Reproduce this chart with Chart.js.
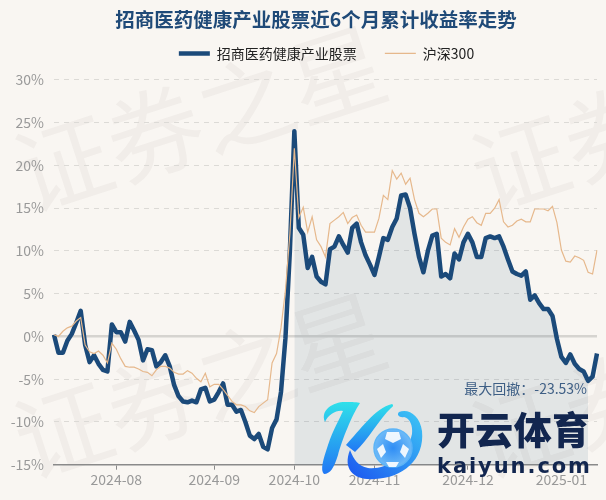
<!DOCTYPE html>
<html>
<head>
<meta charset="utf-8">
<script src="https://cdn.jsdelivr.net/npm/chart.js@4"></script>
<style>
html, body { margin: 0; padding: 0; background: #f9f6f2; }
#wrap { position: relative; width: 606px; height: 500px; overflow: hidden; }
#logo { position: absolute; left: 0; top: 0; pointer-events: none; }
</style>
</head>
<body>
<div id="wrap">
<canvas id="chart" width="606" height="500"></canvas>
<svg id="logo" width="606" height="500" xmlns="http://www.w3.org/2000/svg">
    <defs>
        <linearGradient id="kGrad" x1="0" y1="0" x2="0" y2="1">
            <stop offset="0" stop-color="#2fe0ea"/>
            <stop offset="1" stop-color="#2177f5"/>
        </linearGradient>
        <linearGradient id="swoosh" x1="0" y1="1" x2="1" y2="0">
            <stop offset="0" stop-color="#1b55f0"/>
            <stop offset="1" stop-color="#3dc8f5"/>
        </linearGradient>
        <radialGradient id="ball" cx="0.5" cy="0.5" r="0.6">
            <stop offset="0" stop-color="#2f8df5"/>
            <stop offset="1" stop-color="#7cc4f8"/>
        </radialGradient>
    </defs>
    <path fill="url(#kGrad)" d="M325,422 C320,410 333,402 345,402 C352,402 358,402 360,403 C352,415 342,440 338,455 C334,468 330,474 324,474 C320,470 323,460 328,445 C333,430 340,418 343,411 C336,410 329,414 325,422 Z"/>
    <path fill="url(#kGrad)" d="M346,445 C360,430 375,408 392,404 C394,405 393,407 391,408 C380,418 368,440 355,452 Z"/>
    <path fill="url(#swoosh)" d="M350,450 C342,470 355,481 375,479 C402,478 425,460 422,431 C420,415 408,408 399,412 C396,415 400,418 404,417 C410,418 413,426 412,434 C407,458 385,470 368,468 C358,466 354,460 350,450 Z"/>
    <circle cx="393" cy="448" r="19" fill="url(#ball)" stroke="#5cb4f7" stroke-width="1.5"/>
    <g fill="#ffffff" opacity="0.9">
        <polygon points="387,432 399,432 401,439 393,443 385,439"/>
        <polygon points="377,449 383,444 386,452 381,458"/>
        <polygon points="403,444 409,449 405,458 400,452"/>
        <polygon points="386,462 399,462 396,467 389,467"/>
    </g>
    <text x="437" y="444" font-family="Noto Sans CJK SC" font-weight="900" font-size="38" fill="#12264f" textLength="153" lengthAdjust="spacing">开云体育</text>
    <text x="437" y="473" font-family="DejaVu Sans" font-weight="bold" font-size="21" fill="#12264f" textLength="153" lengthAdjust="spacing">kaiyun.com</text>
</svg>
</div>
<script>
const seriesNames = ['招商医药健康产业股票', '沪深300'];

const stockValues = [
    0.2, -1.9, -1.9, -0.5, 0.3, 1.6, 3.0, -1, -3, -2.2, -3.2, -3.9, -4.1, 1.4, 0.5, 0.5, -0.6, 1.7, 0.7, -0.4,
    -2.8, -1.5, -1.6, -3.5, -3, -2.2, -3.5, -5.7, -7, -7.6, -7.7, -7.5, -7.7, -6.2, -6, -7.6, -7.4, -6.5, -5.5, -8,
    -8, -8.8, -8.6, -10, -11.6, -12, -11.4, -12.9, -13.2, -10.7, -9.7, -6.5, -0.2, 10, 24, 12.7, 11.9, 8, 9.3, 7,
    6.4, 6.1, 10.2, 10.5, 11.7, 10.7, 9.8, 12.7, 13.2, 11, 9.5, 8.4, 7.2, 9.3, 11.5, 11.3, 12.8, 13.8, 16.5, 16.6,
    15, 12, 9.3, 7.5, 10, 11.8, 12, 7, 7.3, 6.8, 9.7, 9, 11, 12, 11, 9.3, 9.3, 11.5, 11.7, 11.5,
    11.7, 10.5, 9, 7.6, 7.3, 7.1, 7.6, 4.3, 4.8, 3.9, 3.2, 3.2, 2.4, -0.3, -2.4, -3.1, -2.1, -3.2, -3.8, -4.1,
    -5.2, -4.7, -2
];
const indexValues = [
    0.2, 0, 0.6, 1, 1.2, 1.8, 2.2, -1, -1.8, -2, -1.7, -2.2, -3.1, -0.8, -1.5, -2.6, -3.5, -3.6, -3.6, -3.8,
    -4.1, -4.2, -4.6, -3.9, -3.5, -3.5, -3.7, -4.2, -4.4, -4.4, -4, -4.3, -4.9, -5.3, -4.3, -5.9, -5.6, -5.6, -6.2, -6.9,
    -7.6, -8, -8, -8.2, -8.7, -8.9, -8.2, -7.8, -7.4, -3.1, -2, 1, 5.4, 12, 22, 13.9, 15.1, 12.2, 14, 11.3,
    10.5, 9.3, 13.2, 13.6, 14, 14.5, 13.2, 13.9, 14.2, 13, 12.2, 12.2, 12.2, 13.8, 16.5, 16, 19.4, 18.4, 19.1, 17.8,
    18.5, 16, 14.4, 14, 14.4, 14.9, 14.9, 11.5, 11, 10.7, 12.6, 11.6, 12.8, 13.7, 14, 13.3, 13, 14.4, 14.4, 15,
    16, 13.4, 12.8, 13, 13.5, 13.7, 13.4, 13.4, 14.9, 14.9, 14.9, 14.7, 15.2, 13.3, 10.1, 8.8, 8.7, 9.4, 9.2, 8.9,
    7.5, 7.3, 10.1
];

// 月份刻度：第几个交易日开始新的月份
const monthIndexes = [14, 36, 54, 72, 93, 114];
const monthLabels = ['2024-08', '2024-09', '2024-10', '2024-11', '2024-12', '2025-01'];
const yTicks = [-15, -10, -5, 0, 5, 10, 15, 20, 25, 30];

// 最大回撤区间
const drawdownStart = 54;
const drawdownEnd = 120;
const drawdownText = '最大回撤：-23.53%';

const categories = stockValues.map((v, i) => {
    const m = monthIndexes.indexOf(i);
    return m >= 0 ? monthLabels[m] : '';
});
const drawdownValues = stockValues.map((v, i) => (i >= drawdownStart && i <= drawdownEnd) ? v : null);

const FONT = '"Noto Sans CJK SC", "Noto Sans", sans-serif';

// 背景水印和回撤文字
const decorations = {
    id: 'decorations',
    afterLayout(chart) {
        // 图例位置微调，y轴标签不要被裁掉
        chart.legend.top -= 9.5;
        chart.legend.left += 21;
        chart.scales.y.left = 0;
    },
    beforeDraw(chart) {
        const ctx = chart.ctx;
        const spots = [[63, 163], [520, 163], [63, 430], [520, 430]];
        ctx.save();
        ctx.fillStyle = 'rgba(60,50,40,0.045)';
        ctx.font = '96px ' + FONT;
        ctx.textBaseline = 'middle';
        spots.forEach(p => {
            ctx.save();
            ctx.translate(p[0], p[1]);
            ctx.rotate(-18 * Math.PI / 180);
            ctx.fillText('证券之星', -48, 0);
            ctx.restore();
        });
        ctx.restore();
    },
    afterDatasetsDraw(chart) {
        const ctx = chart.ctx;
        ctx.save();
        ctx.fillStyle = '#3e5f85';
        ctx.font = '14px ' + FONT;
        ctx.textAlign = 'right';
        ctx.textBaseline = 'middle';
        ctx.fillText(drawdownText, 587, 389);
        ctx.restore();
    }
};

new Chart(document.getElementById('chart'), {
    type: 'line',
    data: {
        labels: categories,
        datasets: [
            {
                label: seriesNames[0],
                data: stockValues,
                borderColor: '#1b4a7a',
                borderWidth: 4.5,
                borderJoinStyle: 'round',
                pointRadius: 0,
                tension: 0,
                order: 2
            },
            {
                label: seriesNames[1],
                data: indexValues,
                borderColor: '#e6b88c',
                borderWidth: 1.2,
                pointRadius: 0,
                tension: 0,
                order: 1
            },
            {
                label: 'drawdown',
                data: drawdownValues,
                borderWidth: 0,
                borderColor: 'transparent',
                backgroundColor: 'rgba(27,74,122,0.1)',
                fill: 'start',
                pointRadius: 0,
                tension: 0,
                order: 3
            }
        ]
    },
    options: {
        responsive: false,
        animation: false,
        layout: { padding: { left: 35, right: 9, top: 8, bottom: 9.5 } },
        plugins: {
            title: {
                display: true,
                text: '招商医药健康产业股票近6个月累计收益率走势',
                color: '#1f4a78',
                font: { family: FONT, size: 19.5, weight: 'bold' },
                padding: { top: 0, bottom: -3.5 }
            },
            legend: {
                display: true,
                labels: {
                    usePointStyle: true,
                    pointStyle: 'line',
                    pointStyleWidth: 31,
                    color: '#222222',
                    font: { family: FONT, size: 14 },
                    padding: 28,
                    filter: item => item.text !== 'drawdown',
                    sort: (a, b) => a.datasetIndex - b.datasetIndex
                }
            },
            tooltip: { enabled: false }
        },
        scales: {
            x: {
                grid: {
                    drawOnChartArea: false,
                    tickLength: 5,
                    tickColor: ctx => (ctx.tick && ctx.tick.label) ? '#8a8a8a' : 'transparent'
                },
                border: { color: '#8a8a8a', width: 1.5 },
                ticks: {
                    autoSkip: false,
                    maxRotation: 0,
                    color: '#999999',
                    padding: 2,
                    font: { family: FONT, size: 14 }
                }
            },
            y: {
                min: -15,
                max: 30,
                afterBuildTicks: scale => { scale.ticks = yTicks.map(v => ({ value: v })); },
                afterFit: scale => { scale.width = 19; },
                grid: {
                    drawTicks: false,
                    color: ctx => {
                        if (ctx.tick.value === -15) return 'transparent';
                        return ctx.tick.value === 0 ? '#d6d4d0' : '#dcdad6';
                    },
                    lineWidth: ctx => ctx.tick.value === 0 ? 2.5 : 1
                },
                border: {
                    display: false,
                    dash: ctx => ctx.tick.value === 0 ? [] : [5, 5]
                },
                ticks: {
                    color: '#999999',
                    padding: 10,
                    font: { family: FONT, size: 14 },
                    callback: v => v + '%'
                }
            }
        }
    },
    plugins: [decorations]
});
</script>
</body>
</html>
